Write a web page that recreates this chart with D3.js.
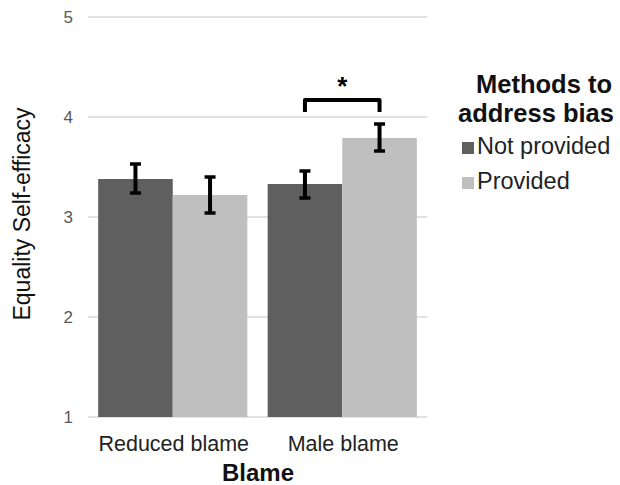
<!DOCTYPE html>
<html>
<head>
<meta charset="utf-8">
<script src="https://cdn.jsdelivr.net/npm/d3@7"></script>
<style>
  body { margin: 0; background: #fff; }
  svg { display: block; font-family: "Liberation Sans", Arial, sans-serif; }
</style>
</head>
<body>
<svg id="chart" width="620" height="485"></svg>
<script>
const categories = ["Reduced blame", "Male blame"];
const series = ["Not provided", "Provided"];
const colors = ["#5f5f5f", "#bfbfbf"];
// means and error bar ends, one row per category, one column per series
const means = [[3.38, 3.22], [3.33, 3.79]];
const errLow = [[3.24, 3.04], [3.19, 3.66]];
const errHigh = [[3.53, 3.40], [3.46, 3.93]];
const yTicks = [1, 2, 3, 4, 5];

const svg = d3.select("#chart");

const x0 = d3.scaleBand().domain(categories).range([88, 427]).paddingInner(0.12).paddingOuter(0.06);
const x1 = d3.scaleBand().domain(series).range([0, x0.bandwidth()]);
const y = d3.scaleLinear().domain([1, 5]).range([417, 17]);

// grid
svg.append("g").selectAll("line")
  .data(yTicks)
  .enter().append("line")
  .attr("x1", 88).attr("x2", 427)
  .attr("y1", d => y(d)).attr("y2", d => y(d))
  .attr("stroke", "#d9d9d9").attr("stroke-width", 1.5);

// y axis labels
const yAxis = d3.axisLeft(y).tickValues(yTicks).tickSize(0).tickPadding(0).tickFormat(d3.format("d"));
const yg = svg.append("g").attr("transform", "translate(73,0)").call(yAxis);
yg.select(".domain").remove();
yg.selectAll("text").attr("font-size", 17).attr("fill", "#595959").attr("font-family", "Liberation Sans, Arial, sans-serif");

// bars
const rows = [];
categories.forEach((c, i) => series.forEach((s, j) => {
  rows.push({ cat: c, ser: s, j: j, v: means[i][j], lo: errLow[i][j], hi: errHigh[i][j] });
}));

svg.append("g").selectAll("rect")
  .data(rows)
  .enter().append("rect")
  .attr("x", d => x0(d.cat) + x1(d.ser))
  .attr("width", x1.bandwidth())
  .attr("y", d => y(d.v))
  .attr("height", d => y(1) - y(d.v))
  .attr("fill", d => colors[d.j]);

// error bars
const eb = svg.append("g").attr("stroke", "#000");
rows.forEach(d => {
  const cx = x0(d.cat) + x1(d.ser) + x1.bandwidth() / 2;
  eb.append("line").attr("x1", cx).attr("x2", cx).attr("y1", y(d.hi)).attr("y2", y(d.lo)).attr("stroke-width", 4);
  [d.hi, d.lo].forEach(v => {
    eb.append("line").attr("x1", cx - 5.5).attr("x2", cx + 5.5).attr("y1", y(v)).attr("y2", y(v)).attr("stroke-width", 3.5);
  });
});

// significance bracket on Male blame
const bx1 = x0("Male blame") + x1("Not provided") + x1.bandwidth() / 2;
const bx2 = x0("Male blame") + x1("Provided") + x1.bandwidth() / 2;
svg.append("path")
  .attr("d", `M${bx1},112 L${bx1},100 L${bx2},100 L${bx2},112`)
  .attr("fill", "none").attr("stroke", "#000").attr("stroke-width", 4)
  .attr("stroke-linejoin", "round");
svg.append("text")
  .attr("x", (bx1 + bx2) / 2).attr("y", 95)
  .attr("text-anchor", "middle").attr("font-size", 26).attr("font-weight", "bold")
  .text("*");

// x axis labels
svg.append("g").selectAll("text")
  .data(categories)
  .enter().append("text")
  .attr("x", d => x0(d) + x0.bandwidth() / 2 + 1)
  .attr("y", 451)
  .attr("text-anchor", "middle").attr("font-size", 21.5).attr("fill", "#222")
  .text(d => d);

svg.append("text")
  .attr("x", 258).attr("y", 481)
  .attr("text-anchor", "middle").attr("font-size", 24).attr("font-weight", "bold").attr("fill", "#111")
  .text("Blame");

// y title
svg.append("text")
  .attr("transform", "translate(30,214) rotate(-90)")
  .attr("text-anchor", "middle").attr("font-size", 23).attr("fill", "#111")
  .text("Equality Self-efficacy");

// legend
const lg = svg.append("g");
lg.append("text").attr("x", 544).attr("y", 93).attr("text-anchor", "middle")
  .attr("font-size", 25.5).attr("font-weight", "bold").attr("fill", "#111").text("Methods to");
lg.append("text").attr("x", 536).attr("y", 122).attr("text-anchor", "middle")
  .attr("font-size", 25.5).attr("font-weight", "bold").attr("fill", "#111").text("address bias");

const items = lg.selectAll("g.item")
  .data(series)
  .enter().append("g").attr("class", "item")
  .attr("transform", (d, i) => `translate(462,${142 + i * 35})`);
items.append("rect").attr("width", 12).attr("height", 12).attr("fill", (d, i) => colors[i]);
items.append("text").attr("x", 15).attr("y", 12).attr("font-size", 23.5).attr("fill", "#222").text(d => d);
</script>
</body>
</html>
